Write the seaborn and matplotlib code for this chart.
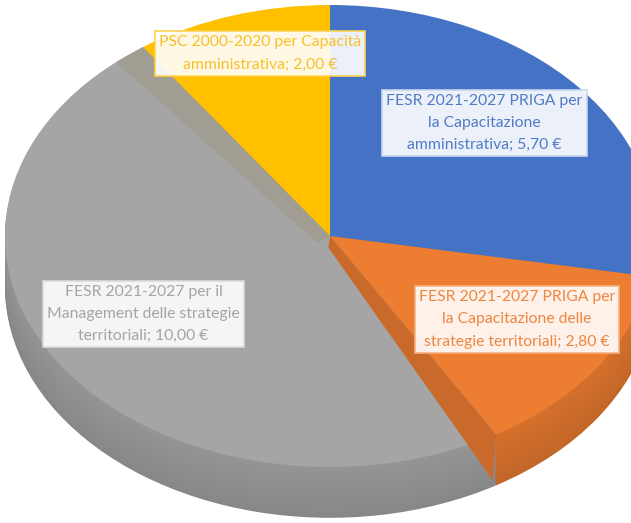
import numpy as np
import matplotlib
matplotlib.use("Agg")
import matplotlib.pyplot as plt
import seaborn as sns
from matplotlib.colors import to_rgb
from matplotlib.patches import Polygon

sns.set_style("white")
plt.rcParams['font.family'] = ['Lato', 'DejaVu Sans']

# ---- data ----
categories = [
    "FESR 2021-2027 PRIGA per\nla Capacitazione\namministrativa",
    "FESR 2021-2027 PRIGA per\nla Capacitazione delle\nstrategie territoriali",
    "FESR 2021-2027 per il\nManagement delle strategie\nterritoriali",
    "PSC 2000-2020 per Capacità\namministrativa",
]
values = [5.70, 2.80, 10.00, 2.00]
colors = ["#4472C4", "#ED7D31", "#A5A5A5", "#FFC000"]
text_colors = ["#4F7BC8", "#EE8640", "#A5A5A5", "#F7C02A"]
box_edges = ["#C9D6EE", "#F4B183", "#DADADA", "#FFD24D"]
label_pos_px = [(484.5, 123), (517, 319.5), (143.5, 314), (260, 53.5)]

def fmt(v):
    return f"{v:.2f}".replace(".", ",") + " €"

labels = [f"{c}; {fmt(v)}" for c, v in zip(categories, values)]

W, H = 631, 523
fig = plt.figure(figsize=(W / 100, H / 100), dpi=100)
ax = fig.add_axes([0, 0, 1, 1])

cx, cy = 330, 236
rx, ry = 325, 231
depth = 0.22

def darker(c, f):
    r, g, b = to_rgb(c)
    return (r * f, g * f, b * f)

# side (stacked layers)
n = 30
for i in range(n, 0, -1):
    d = depth * i / n
    f = 0.82 + 0.08 * (1 - i / n)
    ax.pie(values, colors=[darker(c, f) for c in colors], startangle=90,
           counterclock=False, center=(0, -d), radius=1,
           wedgeprops=dict(linewidth=0))

# top face
wedges, _ = ax.pie(values, colors=colors, startangle=90, counterclock=False,
                   center=(0, 0), radius=1, wedgeprops=dict(linewidth=0))

total = sum(values)
cum = np.cumsum(values)

# visible radial face of the orange slice (towards the grey slice)
a_og = np.deg2rad(90 - 360 * cum[1] / total)
px, py = np.cos(a_og), np.sin(a_og)
face = Polygon([(0, 0.0), (px, py), (px - 0.01, py - depth * 0.9), (-0.005, -0.05)],
               closed=True, facecolor=darker(colors[1], 0.85), edgecolor='none')
ax.add_patch(face)

# visible radial face of the yellow slice (towards the grey slice)
a_gy = np.deg2rad(90 - 360 * cum[2] / total)
a_gy2 = a_gy + np.deg2rad(6)
qx, qy = np.cos(a_gy), np.sin(a_gy)
rx2, ry2 = np.cos(a_gy2), np.sin(a_gy2)
face2 = Polygon([(0, 0.0), (qx, qy), (rx2, ry2), (-0.04, -0.03)],
                closed=True, facecolor="#A19D92", edgecolor='none')
ax.add_patch(face2)

ax.set_aspect('auto')
ax.set_xlim((0 - cx) / rx, (W - cx) / rx)
ax.set_ylim((cy - H) / ry, cy / ry)

for lab, (lx, ly), tc, ec in zip(labels, label_pos_px, text_colors, box_edges):
    x = (lx - cx) / rx
    y = (cy - ly) / ry
    ax.text(x, y, lab, ha='center', va='center', color=tc, fontsize=11.3,
            linespacing=1.75,
            bbox=dict(boxstyle='square,pad=0.25', facecolor='white', alpha=0.9,
                      edgecolor=ec, linewidth=1.3))

ax.axis('off')
fig.savefig("out.png", dpi=100, facecolor='white')
